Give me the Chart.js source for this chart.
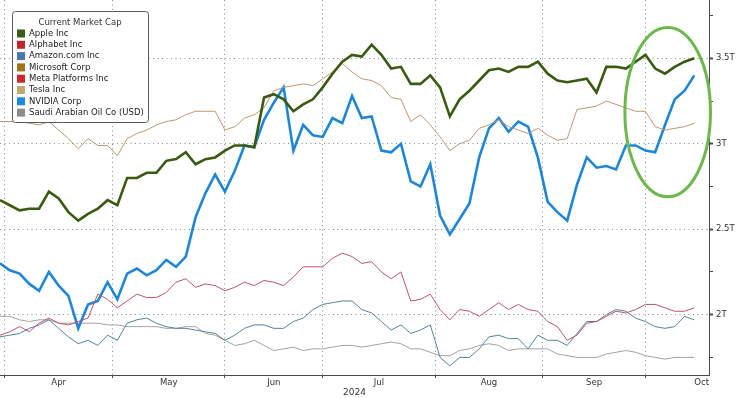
<!DOCTYPE html>
<html>
<head>
<meta charset="utf-8">
<title>Current Market Cap</title>
<script src="https://cdn.jsdelivr.net/npm/chart.js@4.4.1/dist/chart.umd.min.js"></script>
<style>
    html, body { margin: 0; padding: 0; background: #ffffff; }
    #wrap { width: 736px; height: 398px; position: relative; }
</style>
</head>
<body>
<div id="wrap"><canvas id="cap-chart"></canvas></div>
<script>
// x = weekday index, 0 = Thu 28 Mar 2024 (one sample every other weekday)
const days = [
    1, 3, 5, 7, 9, 11, 13, 15, 17, 19, 21, 23, 25, 27, 29, 31, 33, 35,
    37, 39, 41, 43, 45, 47, 49, 51, 53, 55, 57, 59, 61, 63, 65, 67, 69, 71,
    73, 75, 77, 79, 81, 83, 85, 87, 89, 91, 93, 95, 97, 99, 101, 103, 105, 107,
    109, 111, 113, 115, 117, 119, 121, 123, 125, 127, 129, 131, 133, 135, 137, 139, 141, 143
];

// Market caps, trillions of USD
const appleCap = [
    2.67, 2.64, 2.61, 2.62, 2.62, 2.72, 2.68, 2.60, 2.55, 2.59,
    2.62, 2.67, 2.64, 2.80, 2.80, 2.83, 2.83, 2.90, 2.91, 2.95,
    2.88, 2.91, 2.92, 2.96, 2.99, 2.99, 2.98, 3.27, 3.29, 3.26,
    3.19, 3.23, 3.26, 3.33, 3.41, 3.48, 3.52, 3.51, 3.58, 3.52,
    3.44, 3.45, 3.35, 3.35, 3.40, 3.33, 3.16, 3.26, 3.31, 3.37,
    3.43, 3.44, 3.42, 3.45, 3.45, 3.48, 3.41, 3.37, 3.36, 3.37,
    3.38, 3.30, 3.45, 3.45, 3.44, 3.48, 3.52, 3.44, 3.41, 3.45,
    3.48, 3.50
];
const alphabetCap = [
    1.88, 1.90, 1.93, 1.90, 1.95, 1.98, 1.95, 1.94, 1.96, 1.98,
    2.12, 2.09, 2.04, 2.08, 2.12, 2.10, 2.10, 2.13, 2.19, 2.21,
    2.16, 2.18, 2.17, 2.14, 2.16, 2.19, 2.17, 2.20, 2.19, 2.17,
    2.22, 2.28, 2.28, 2.28, 2.33, 2.36, 2.34, 2.30, 2.31, 2.25,
    2.21, 2.25, 2.08, 2.09, 2.12, 2.03, 1.97, 2.03, 2.02, 1.99,
    2.03, 2.07, 2.03, 2.06, 2.03, 2.02, 1.96, 1.93, 1.85, 1.88,
    1.95, 1.96, 1.99, 2.02, 2.01, 2.03, 2.06, 2.06, 2.04, 2.02,
    2.02, 2.04
];
const amazonCap = [
    1.87, 1.88, 1.89, 1.92, 1.94, 1.97, 1.92, 1.87, 1.83, 1.85,
    1.82, 1.88, 1.85, 1.95, 1.97, 1.98, 1.95, 1.93, 1.92, 1.92,
    1.91, 1.90, 1.89, 1.85, 1.88, 1.92, 1.94, 1.94, 1.92, 1.92,
    1.96, 1.98, 2.03, 2.06, 2.07, 2.08, 2.08, 2.03, 2.01, 1.96,
    1.91, 1.94, 1.89, 1.91, 1.94, 1.75, 1.70, 1.75, 1.75, 1.80,
    1.87, 1.88, 1.86, 1.86, 1.80, 1.88, 1.85, 1.85, 1.82, 1.89,
    1.96, 1.96, 2.00, 2.03, 2.02, 1.98, 1.96, 1.93, 1.92, 1.93,
    1.99, 1.97
];
const microsoftCap = [
    3.13, 3.13, 3.13, 3.12, 3.11, 3.13, 3.08, 3.03, 2.97, 3.03,
    2.99, 2.99, 2.93, 3.03, 3.06, 3.08, 3.11, 3.13, 3.14, 3.17,
    3.19, 3.19, 3.19, 3.08, 3.10, 3.15, 3.17, 3.21, 3.31, 3.33,
    3.34, 3.35, 3.34, 3.38, 3.42, 3.47, 3.42, 3.38, 3.37, 3.34,
    3.27, 3.26, 3.13, 3.17, 3.11, 3.04, 2.96, 3.00, 3.02, 3.09,
    3.11, 3.14, 3.10, 3.08, 3.06, 3.09, 3.05, 3.02, 3.03, 3.20,
    3.21, 3.22, 3.25, 3.23, 3.21, 3.19, 3.19, 3.10, 3.08, 3.09,
    3.10, 3.12
];
// Meta and Tesla sit below the visible range: legend only
const metaCap = [];
const teslaCap = [];
const nvidiaCap = [
    2.30, 2.26, 2.24, 2.18, 2.14, 2.25, 2.17, 2.11, 1.92, 2.06,
    2.08, 2.19, 2.09, 2.24, 2.27, 2.23, 2.26, 2.32, 2.28, 2.34,
    2.57, 2.71, 2.82, 2.72, 2.84, 2.99, 2.98, 3.14, 3.24, 3.33,
    2.96, 3.11, 3.05, 3.04, 3.15, 3.12, 3.28, 3.15, 3.16, 2.96,
    2.95, 3.00, 2.78, 2.75, 2.88, 2.58, 2.47, 2.56, 2.65, 2.92,
    3.09, 3.15, 3.07, 3.13, 3.10, 2.92, 2.66, 2.60, 2.55, 2.76,
    2.92, 2.86, 2.87, 2.85, 2.99, 2.99, 2.96, 2.95, 3.11, 3.26,
    3.31, 3.40
];
const aramcoCap = [
    1.99, 1.99, 1.97, 1.96, 1.97, 1.97, 1.95, 1.95, 1.95, 1.95,
    1.95, 1.94, 1.94, 1.93, 1.93, 1.93, 1.93, 1.92, 1.92, 1.93,
    1.93, 1.89, 1.88, 1.85, 1.82, 1.83, 1.85, 1.82, 1.79, 1.80,
    1.81, 1.79, 1.80, 1.80, 1.81, 1.82, 1.82, 1.81, 1.82, 1.83,
    1.84, 1.83, 1.80, 1.80, 1.78, 1.76, 1.76, 1.79, 1.80, 1.82,
    1.83, 1.82, 1.79, 1.80, 1.80, 1.80, 1.80, 1.77, 1.76, 1.75,
    1.75, 1.75, 1.77, 1.78, 1.79, 1.78, 1.76, 1.75, 1.74, 1.75,
    1.75, 1.75
];

// Month boundaries in weekday index (last one = 1 Nov, only used to centre "Oct")
const monthStarts = [2, 24, 47, 67, 90, 112, 133, 156];
const monthNames = ['Apr', 'May', 'Jun', 'Jul', 'Aug', 'Sep', 'Oct'];

// Right axis
const yTickValues = [1.75, 2, 2.25, 2.5, 2.75, 3, 3.25, 3.5, 3.75];
const yLabelValues = [2, 2.5, 3, 3.5];
const yLabels = ['2T', '2.5T', '3T', '3.5T'];

// The green ring drawn round the last weeks (data units)
const highlight = { xFrom: 128.8, xTo: 146.3, yFrom: 2.69, yTo: 3.68 };

const series = [
    { label: 'Apple Inc',                  values: appleCap,     line: '#3a5a12', swatch: '#3b5a17', width: 2.6 },
    { label: 'Alphabet Inc',               values: alphabetCap,  line: '#bf5468', swatch: '#c0262b', width: 1 },
    { label: 'Amazon.com Inc',             values: amazonCap,    line: '#55819f', swatch: '#4a78a8', width: 1 },
    { label: 'Microsoft Corp',             values: microsoftCap, line: '#bf9670', swatch: '#a0741c', width: 1 },
    { label: 'Meta Platforms Inc',         values: metaCap,      line: '#c8282d', swatch: '#c8282d', width: 1 },
    { label: 'Tesla Inc',                  values: teslaCap,     line: '#c2aa6c', swatch: '#c2aa6c', width: 1 },
    { label: 'NVIDIA Corp',                values: nvidiaCap,    line: '#1f86d6', swatch: '#1e88e5', width: 2.6 },
    { label: 'Saudi Arabian Oil Co (USD)', values: aramcoCap,    line: '#a2a2a2', swatch: '#8c8c8c', width: 1 }
];

const FONT = "'DejaVu Sans', sans-serif";
const GRID_COLOR = '#8a8a8a';
const AXIS_COLOR = '#4a4a4a';

// x ticks: month boundaries (grid lines) and month middles (labels)
const monthMids = monthNames.map((name, i) => (monthStarts[i] + monthStarts[i + 1]) / 2);
const xTicks = monthStarts.slice(0, monthNames.length).concat(monthMids);

function isMonthStart(value) {
    return monthStarts.indexOf(value) !== -1;
}

function yLabelFor(value) {
    const i = yLabelValues.indexOf(value);
    return i === -1 ? '' : yLabels[i];
}

/**
 * Legend box in the top left of the plot, drawn over the lines
 */
const legendBox = {
    id: 'legendBox',
    afterDraw(chart) {
        const ctx = chart.ctx;
        const left = 12, top = 11, w = 136, h = 111;
        ctx.save();
        ctx.beginPath();
        ctx.roundRect(left + 0.5, top + 0.5, w, h, 3);
        ctx.fillStyle = '#ffffff';
        ctx.fill();
        ctx.lineWidth = 1;
        ctx.strokeStyle = '#5a5a5a';
        ctx.stroke();

        ctx.font = '8.5px ' + FONT;
        ctx.textBaseline = 'middle';
        ctx.fillStyle = '#333333';
        ctx.textAlign = 'center';
        ctx.fillText('Current Market Cap', left + w / 2, top + 12);

        ctx.textAlign = 'left';
        chart.data.datasets.forEach((ds, i) => {
            const rowY = top + 22.5 + i * 11.3;
            ctx.fillStyle = ds.backgroundColor;
            ctx.fillRect(left + 5, rowY - 4, 8, 8);
            ctx.fillStyle = '#222222';
            ctx.fillText(ds.label, left + 17, rowY);
        });
        ctx.restore();
    }
};

/**
 * Green ellipse round the latest weeks
 */
const highlightRing = {
    id: 'highlightRing',
    afterDatasetsDraw(chart) {
        const xs = chart.scales.x;
        const ys = chart.scales.y;
        const x1 = xs.getPixelForValue(highlight.xFrom);
        const x2 = xs.getPixelForValue(highlight.xTo);
        const y1 = ys.getPixelForValue(highlight.yTo);
        const y2 = ys.getPixelForValue(highlight.yFrom);
        const ctx = chart.ctx;
        ctx.save();
        ctx.beginPath();
        ctx.ellipse((x1 + x2) / 2, (y1 + y2) / 2, (x2 - x1) / 2, (y2 - y1) / 2, 0, 0, Math.PI * 2);
        ctx.lineWidth = 3;
        ctx.strokeStyle = '#6cb84e';
        ctx.stroke();
        ctx.restore();
    }
};

const datasets = series.map(s => ({
    label: s.label,
    data: s.values.map((v, i) => ({ x: days[i], y: v })),
    borderColor: s.line,
    backgroundColor: s.swatch,
    borderWidth: s.width,
    pointRadius: 0,
    tension: 0,
    fill: false
}));

new Chart(document.getElementById('cap-chart'), {
    type: 'line',
    data: { datasets },
    options: {
        responsive: true,
        maintainAspectRatio: false,
        animation: false,
        layout: { padding: 0 },
        plugins: {
            legend: { display: false },
            tooltip: { enabled: false }
        },
        scales: {
            x: {
                type: 'linear',
                min: 1,
                max: 146,
                afterBuildTicks: scale => {
                    scale.ticks = xTicks.map(v => ({ value: v }));
                },
                afterFit: scale => {
                    scale.height = 23;
                    scale.paddingLeft = 0;
                    scale.paddingRight = 0;
                },
                grid: {
                    color: ctx => (ctx.tick && isMonthStart(ctx.tick.value)) ? GRID_COLOR : 'rgba(0,0,0,0)',
                    tickColor: ctx => (ctx.tick && isMonthStart(ctx.tick.value)) ? AXIS_COLOR : 'rgba(0,0,0,0)',
                    tickLength: 3,
                    lineWidth: 1
                },
                border: { display: true, color: AXIS_COLOR, width: 1, dash: [1, 3.5] },
                ticks: {
                    autoSkip: false,
                    maxRotation: 0,
                    padding: 0,
                    color: '#333333',
                    font: { family: FONT, size: 8.5 },
                    callback: value => {
                        const i = monthMids.indexOf(value);
                        return i === -1 ? '' : monthNames[i];
                    }
                },
                title: {
                    display: true,
                    text: '2024',
                    padding: 0,
                    color: '#333333',
                    font: { family: FONT, size: 9 }
                }
            },
            y: {
                type: 'linear',
                position: 'right',
                min: 1.647,
                max: 3.841,
                afterBuildTicks: scale => {
                    scale.ticks = yTickValues.map(v => ({ value: v }));
                },
                afterFit: scale => {
                    scale.width = 27;
                    scale.paddingTop = 0;
                    scale.paddingBottom = 0;
                },
                grid: {
                    color: ctx => (ctx.tick && yLabelValues.indexOf(ctx.tick.value) !== -1) ? GRID_COLOR : 'rgba(0,0,0,0)',
                    tickColor: AXIS_COLOR,
                    tickWidth: ctx => (ctx.tick && yLabelValues.indexOf(ctx.tick.value) !== -1) ? 2 : 1,
                    tickLength: 4,
                    lineWidth: 1
                },
                border: { display: true, color: AXIS_COLOR, width: 1, dash: [1, 3.5] },
                ticks: {
                    autoSkip: false,
                    padding: 3,
                    color: '#333333',
                    font: { family: FONT, size: 8.5 },
                    callback: value => yLabelFor(value)
                }
            }
        }
    },
    plugins: [highlightRing, legendBox]
});
</script>
</body>
</html>
